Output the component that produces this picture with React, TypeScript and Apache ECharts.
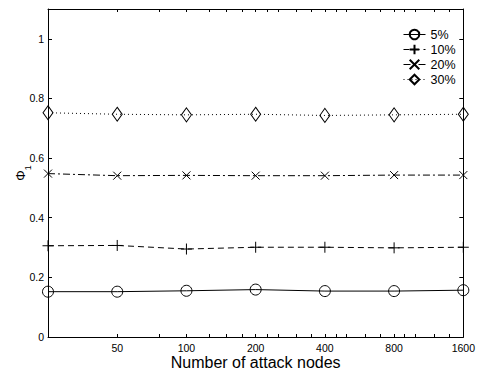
import React, { useEffect, useRef } from "react";
import * as echarts from "echarts";

const xLabels = ["", "50", "100", "200", "400", "800", "1600"];
const yTickValues = [0, 0.2, 0.4, 0.6, 0.8, 1];
const xMajorTicks = [1, 2, 3, 4, 5, 6];
const xMinorTicks = [1.6, 2.33, 2.58, 2.81, 3.17, 3.33, 3.59, 3.8, 4.16, 4.31, 4.58, 4.8, 5.14, 5.31, 5.58, 5.8];

const seriesNames = ["5%", "10%", "20%", "30%"];
const s5 = [0.152, 0.152, 0.155, 0.159, 0.154, 0.154, 0.157];
const s10 = [0.306, 0.307, 0.295, 0.301, 0.301, 0.299, 0.301];
const s20 = [0.548, 0.541, 0.542, 0.541, 0.541, 0.543, 0.543];
const s30 = [0.752, 0.747, 0.745, 0.747, 0.743, 0.745, 0.747];

const FONT = "'Liberation Sans', Arial, Helvetica, sans-serif";

export default function App() {
  const ref = useRef<HTMLDivElement>(null);
  useEffect(() => {
    document.body.style.margin = "0";
    if (!ref.current) return;
    const chart = echarts.init(ref.current, null, { renderer: "svg" });
    const toPts = (arr: number[]) => arr.map((v, i) => [i, v]);
    const baseLine = (type: any) => ({ color: "#000", width: 1, type });
    const itemStyle = { color: "transparent", borderColor: "#000", borderWidth: 1 };
    const tickValues = [...xMajorTicks, ...xMinorTicks];
    const mk = (name: string, data: number[], symbol: string, symbolSize: any, lineType: any) => ({
      name,
      type: "line",
      data: toPts(data),
      symbol,
      symbolSize,
      showAllSymbol: true,
      clip: false,
      lineStyle: baseLine(lineType),
      itemStyle,
      emphasis: { disabled: true },
    });
    const tickStyle = { color: "#000", width: 1 };
    const axLine = { show: true, onZero: false, lineStyle: { color: "#000", width: 1 } };
    chart.setOption({
      animation: false,
      textStyle: { fontFamily: FONT, color: "#000" },
      grid: { left: 48, right: 12, top: 9, bottom: 37 },
      legend: {
        orient: "vertical",
        left: 398,
        top: 23,
        itemWidth: 22,
        itemHeight: 12,
        itemGap: 2,
        data: seriesNames,
        lineStyle: { width: 1 },
        textStyle: { fontSize: 12.5, fontFamily: FONT, color: "#000" },
      },
      xAxis: [
        {
          type: "value",
          min: 0,
          max: 6,
          position: "bottom",
          splitLine: { show: false },
          axisLine: axLine,
          axisTick: { show: true, inside: true, length: 3, customValues: tickValues, lineStyle: tickStyle },
          axisLabel: {
            customValues: xMajorTicks,
            formatter: (v: number) => xLabels[Math.round(v)],
            fontSize: 10.5,
            color: "#000",
            margin: 5,
            fontFamily: FONT,
          },
          name: "Number of attack nodes",
          nameLocation: "middle",
          nameGap: 17,
          nameMoveOverlap: false,
          nameTextStyle: { fontSize: 16, color: "#000", fontFamily: FONT },
        },
        {
          type: "value",
          min: 0,
          max: 6,
          position: "top",
          splitLine: { show: false },
          axisLine: axLine,
          axisTick: { show: true, inside: true, length: 3, customValues: tickValues, lineStyle: tickStyle },
          axisLabel: { show: false },
        },
      ],
      yAxis: [
        {
          type: "value",
          min: 0,
          max: 1.1,
          position: "left",
          splitLine: { show: false },
          axisLine: axLine,
          axisTick: { show: true, inside: true, length: 4, customValues: yTickValues, lineStyle: tickStyle },
          axisLabel: {
            customValues: yTickValues,
            formatter: (v: number) => String(Math.round(v * 10) / 10),
            fontSize: 10.5,
            color: "#000",
            margin: 4,
            fontFamily: FONT,
          },
          name: "{a|Φ}{b|1}",
          nameLocation: "middle",
          nameGap: 16,
          nameMoveOverlap: false,
          nameTextStyle: {
            rich: {
              a: { fontSize: 13, lineHeight: 24, fontFamily: FONT, color: "#000" },
              b: { fontSize: 9, lineHeight: 9, verticalAlign: "bottom", fontFamily: FONT, color: "#000" },
            },
          },
        },
        {
          type: "value",
          min: 0,
          max: 1.1,
          position: "right",
          splitLine: { show: false },
          axisLine: axLine,
          axisTick: { show: true, inside: true, length: 4, customValues: yTickValues, lineStyle: tickStyle },
          axisLabel: { show: false },
        },
      ],
      series: [
        mk(seriesNames[0], s5, "circle", 11, "solid"),
        mk(seriesNames[1], s10, "path://M5,0L5,10M0,5L10,5", 11, [6, 4]),
        mk(seriesNames[2], s20, "path://M0,0L10,10M10,0L0,10", 8, [7, 3, 2, 3]),
        mk(seriesNames[3], s30, "diamond", [10, 14], [1, 3]),
      ],
    });
    return () => chart.dispose();
  }, []);
  return <div ref={ref} style={{ width: 478, height: 375 }} />;
}
